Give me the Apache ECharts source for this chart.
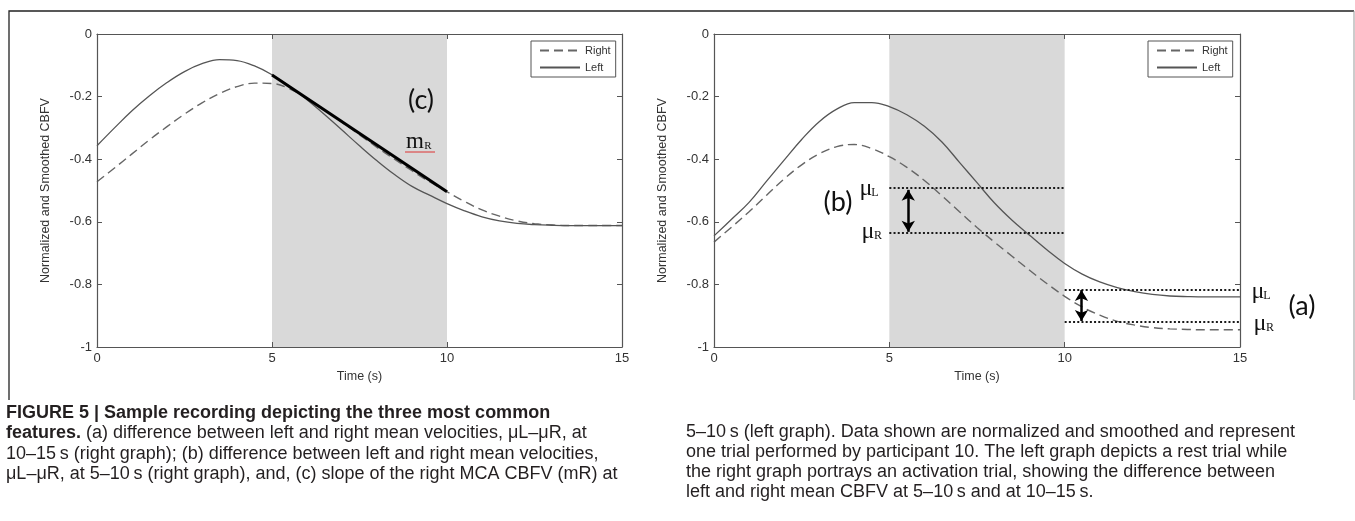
<!DOCTYPE html>
<html><head><meta charset="utf-8">
<script src="https://cdn.jsdelivr.net/npm/echarts@6/dist/echarts.min.js"></script>
<style>html,body{margin:0;padding:0;background:#fff}#c{width:1355px;height:521px}</style>
</head><body><div id="c"></div>
<script>
// ---- data ----
const timeSec = [0,0.5,1,1.5,2,2.5,3,3.5,4,4.5,5,5.5,6,6.5,7,7.5,8,8.5,9,9.5,10,10.5,11,11.5,12,12.5,13,13.5,14,14.5,15];
// left graph (rest trial)
const restLeft  = [-0.357,-0.300,-0.245,-0.197,-0.155,-0.120,-0.095,-0.082,-0.085,-0.102,-0.130,-0.167,-0.210,-0.257,-0.307,-0.357,-0.405,-0.449,-0.487,-0.515,-0.542,-0.565,-0.584,-0.597,-0.605,-0.609,-0.611,-0.612,-0.612,-0.612,-0.612];
const restRight = [-0.472,-0.428,-0.383,-0.338,-0.296,-0.256,-0.220,-0.190,-0.168,-0.157,-0.158,-0.175,-0.205,-0.242,-0.282,-0.322,-0.362,-0.400,-0.437,-0.472,-0.504,-0.535,-0.562,-0.582,-0.597,-0.606,-0.610,-0.612,-0.612,-0.612,-0.612];
// right graph (activation trial)
const actLeft   = [-0.645,-0.592,-0.538,-0.470,-0.403,-0.337,-0.280,-0.240,-0.219,-0.219,-0.232,-0.258,-0.295,-0.345,-0.410,-0.475,-0.540,-0.595,-0.643,-0.690,-0.733,-0.767,-0.792,-0.810,-0.823,-0.832,-0.837,-0.839,-0.840,-0.840,-0.840];
const actRight  = [-0.665,-0.617,-0.568,-0.515,-0.463,-0.418,-0.383,-0.360,-0.353,-0.366,-0.392,-0.426,-0.468,-0.517,-0.568,-0.618,-0.665,-0.710,-0.755,-0.798,-0.838,-0.872,-0.898,-0.918,-0.930,-0.938,-0.942,-0.944,-0.945,-0.945,-0.945];
// slope of right MCA CBFV (m_R) on 5-10 s, left graph
const slopeTime = [5,10];
const slopeVals = [-0.131,-0.504];
// shaded task window
const taskWindow = [5,10];
// mean velocities (right graph): 5-10 s and 10-15 s
const muWindowB = [5,10];   const muB = [-0.490,-0.634]; const arrowB_t = 5.54;
const muWindowA = [10,15];  const muA = [-0.816,-0.919]; const arrowA_t = 10.48;
// ticks
const xTicks = [0,5,10,15];
const yTickValues = [0,-0.2,-0.4,-0.6,-0.8,-1];
const yTickLabels = ['0','-0.2','-0.4','-0.6','-0.8','-1'];
const legendNames = ['Right','Left'];

// ---- chart ----
const chart = echarts.init(document.getElementById('c'), null, {renderer:'canvas'});
const AX = '#555', TXT = '#333', FF = 'Liberation Sans, Arial, sans-serif';
const pairs = arr => timeSec.map((t,i)=>[t,arr[i]]);
function yLab(v){ const i = yTickValues.findIndex(u=>Math.abs(u-v)<1e-6); return i>=0?yTickLabels[i]:''; }

const grids = [{left:97,top:34,width:525,height:313},{left:714,top:34,width:526,height:313}];
const xAxes = [], yAxes = [];
grids.forEach((g,gi)=>{
  const base = {gridIndex:gi,type:'value',min:xTicks[0],max:xTicks[xTicks.length-1],interval:xTicks[1]-xTicks[0],z:5,
    axisLine:{show:true,onZero:false,lineStyle:{color:AX,width:1.2}},
    axisTick:{show:true,inside:true,length:5,lineStyle:{color:AX,width:1}},
    splitLine:{show:false}};
  xAxes.push(Object.assign({},base,{position:'bottom',
    axisLabel:{margin:5,fontSize:13,color:TXT,fontFamily:FF},
    name:'Time (s)',nameLocation:'middle',nameGap:22,nameTextStyle:{fontSize:12.5,color:TXT,fontFamily:FF}}));
  xAxes.push(Object.assign({},base,{position:'top',axisLabel:{show:false}}));
  const ybase = {gridIndex:gi,type:'value',min:-1,max:0,interval:0.2,z:5,
    axisLine:{show:true,onZero:false,lineStyle:{color:AX,width:1.2}},
    axisTick:{show:true,inside:true,length:5,lineStyle:{color:AX,width:1}},
    splitLine:{show:false}};
  yAxes.push(Object.assign({},ybase,{position:'left',
    axisLabel:{margin:5,fontSize:13,color:TXT,fontFamily:FF,formatter:yLab},
    name:'Normalized and Smoothed CBFV',nameLocation:'middle',nameGap:45,nameTextStyle:{fontSize:12.5,color:TXT,fontFamily:FF}}));
  yAxes.push(Object.assign({},ybase,{position:'right',axisLabel:{show:false}}));
});

const dashed = {color:'#666',width:1.4,type:[9,5]};
const solid = {color:'#555',width:1.3,type:'solid'};
const shade = {silent:true,itemStyle:{color:'#d9d9d9'},data:[[{xAxis:taskWindow[0]},{xAxis:taskWindow[1]}]]};
const dotted = {color:'#1a1a1a',width:2,type:[2,2.2]};
const arrowStyle = {color:'#000',width:2.5,type:'solid'};
function hline(x0,x1,y){return [{coord:[x0,y],lineStyle:dotted},{coord:[x1,y]}];}
function arrow(x,y0,y1){return [{coord:[x,y0],symbol:'arrow',symbolSize:[10,11],lineStyle:arrowStyle},{coord:[x,y1],symbol:'arrow',symbolSize:[10,11]}];}

const series = [
  {name:'Right',type:'line',xAxisIndex:0,yAxisIndex:0,data:pairs(restRight),symbol:'none',smooth:0.4,lineStyle:dashed,itemStyle:{color:'#666'},markArea:shade,z:2},
  {name:'Left',type:'line',xAxisIndex:0,yAxisIndex:0,data:pairs(restLeft),symbol:'none',smooth:0.4,lineStyle:solid,itemStyle:{color:'#555'},z:2},
  {name:'slope',type:'line',xAxisIndex:0,yAxisIndex:0,data:slopeTime.map((t,i)=>[t,slopeVals[i]]),symbol:'none',lineStyle:{color:'#000',width:3},z:3},
  {name:'Right',type:'line',xAxisIndex:2,yAxisIndex:2,data:pairs(actRight),symbol:'none',smooth:0.4,lineStyle:dashed,itemStyle:{color:'#666'},markArea:shade,z:2},
  {name:'Left',type:'line',xAxisIndex:2,yAxisIndex:2,data:pairs(actLeft),symbol:'none',smooth:0.4,lineStyle:solid,itemStyle:{color:'#555'},z:2,
    markLine:{silent:true,symbol:['none','none'],label:{show:false},animation:false,
      data:[hline(muWindowB[0],muWindowB[1],muB[0]),hline(muWindowB[0],muWindowB[1],muB[1]),
            hline(muWindowA[0],muWindowA[1],muA[0]),hline(muWindowA[0],muWindowA[1],muA[1]),
            arrow(arrowB_t,muB[0]-0.008,muB[1]+0.002),arrow(arrowA_t,muA[0]-0.002,muA[1]+0.002)]}}
];

const legendBase = {orient:'vertical',top:41,itemWidth:40,itemHeight:12,itemGap:6,padding:[4,5,4,8],
  borderColor:'#555',borderWidth:1,backgroundColor:'#fff',data:legendNames,selectedMode:false,
  itemStyle:{opacity:0},
  textStyle:{fontSize:11,color:TXT,fontFamily:FF}};

// annotation + caption graphics
const serif = 'Liberation Serif, DejaVu Serif, serif';
const lab = 'Lato, Open Sans, sans-serif';
function t(x,y,text,size,fam,extra){return Object.assign({type:'text',x:x,y:y,z:100,style:Object.assign({text:text,fontSize:size,fontFamily:fam,fill:'#111',align:'center',verticalAlign:'middle'},extra||{})});}
const capFont = 'Liberation Sans, Arial, sans-serif';
const capL = ['{b|FIGURE 5 | Sample recording depicting the three most common}',
  '{b|features.} (a) difference between left and right mean velocities, \u03bcL\u2013\u03bcR, at',
  '10\u201315\u2009s (right graph); (b) difference between left and right mean velocities,',
  '\u03bcL\u2013\u03bcR, at 5\u201310\u2009s (right graph), and, (c) slope of the right MCA CBFV (mR) at'];
const capR = ['5\u201310\u2009s (left graph). Data shown are normalized and smoothed and represent',
  'one trial performed by participant 10. The left graph depicts a rest trial while',
  'the right graph portrays an activation trial, showing the difference between',
  'left and right mean CBFV at 5\u201310\u2009s and at 10\u201315\u2009s.'];
const graphics = [
  {type:'polyline',shape:{points:[[9,400],[9,11],[1354,11]]},style:{stroke:'#222',lineWidth:1.3,fill:null},z:0},
  {type:'line',shape:{x1:1354,y1:11,x2:1354,y2:400},style:{stroke:'#999',lineWidth:1},z:0},
  t(421,100,'(c)',27,lab),
  t(415,142,'m',23,serif),
  t(428,146,'R',11,serif),
  {type:'polyline',z:100,shape:{points:(()=>{const p=[];for(let x=405;x<=436;x+=2)p.push([x,151+((x/2)%2?1:-1)]);return p;})()},style:{stroke:'#d33',lineWidth:1,fill:null}},
  t(838,202,'(b)',27,lab),
  t(866,189,'\u03bc',24,serif),
  t(875,193,'L',12,serif),
  t(868,232,'\u03bc',24,serif),
  t(878,236,'R',12,serif),
  t(1258,292,'\u03bc',24,serif),
  t(1267,296,'L',12,serif),
  t(1260,324,'\u03bc',24,serif),
  t(1270,328,'R',12,serif),
  t(1302,306,'(a)',27,lab)
];
capL.forEach((s,i)=>graphics.push({type:'text',x:6,y:413+20.5*i,z:100,style:{text:s,fontSize:18,fontFamily:capFont,fill:'#231f20',align:'left',verticalAlign:'middle',
  rich:{b:{fontSize:18,fontWeight:'bold',fontFamily:capFont,fill:'#231f20'}}}}));
capR.forEach((s,i)=>graphics.push({type:'text',x:686,y:432+20*i,z:100,style:{text:s,fontSize:18,fontFamily:capFont,fill:'#231f20',align:'left',verticalAlign:'middle'}}));

chart.setOption({
  animation:false,
  backgroundColor:'#fff',
  grid:grids,
  xAxis:xAxes,
  yAxis:yAxes,
  legend:[Object.assign({},legendBase,{left:531}),Object.assign({},legendBase,{left:1148})],
  series:series,
  graphic:graphics
});
</script></body></html>
